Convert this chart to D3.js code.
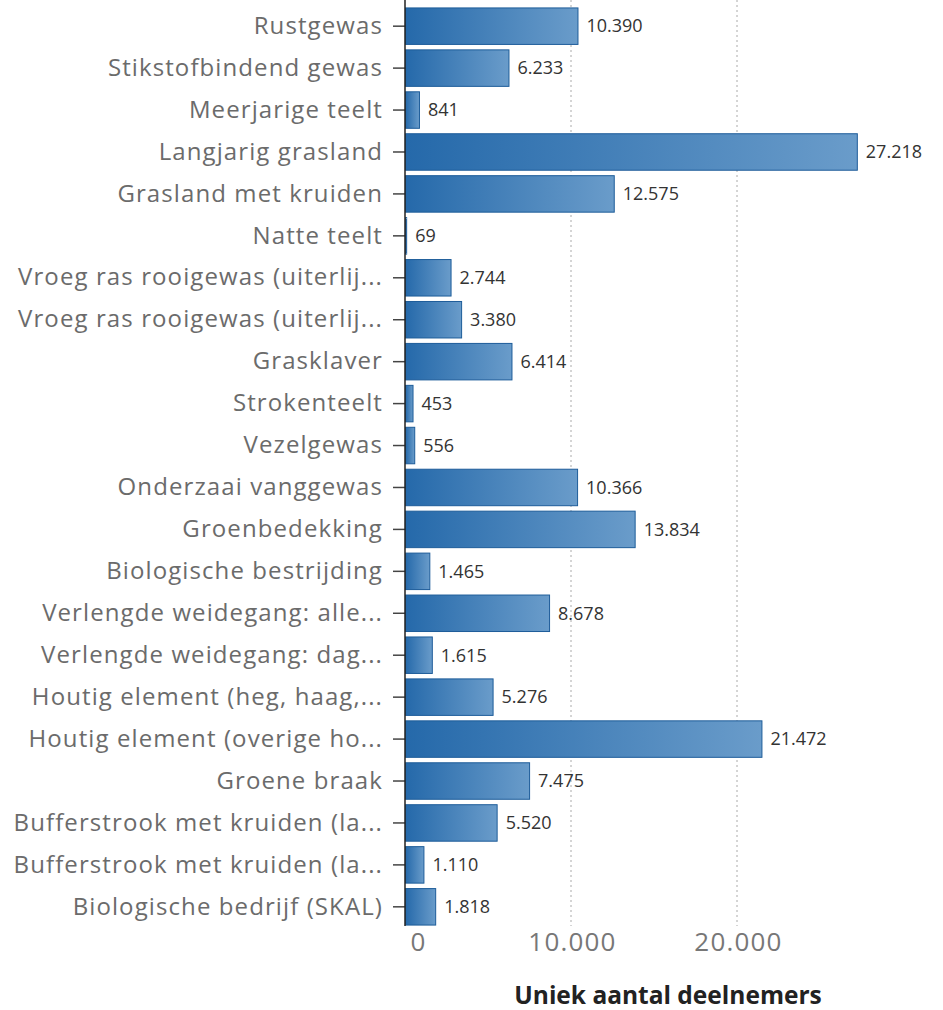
<!DOCTYPE html>
<html lang="nl">
<head>
<meta charset="utf-8">
<style>
  body { margin: 0; background: #fff; }
  svg text { font-family: "Open Sans", Lato, sans-serif; }
</style>
</head>
<body>
<svg width="943" height="1010"></svg>
<script src="https://d3js.org/d3.v7.min.js"></script>
<script>
// data
var categories = [
  "Rustgewas", "Stikstofbindend gewas", "Meerjarige teelt", "Langjarig grasland",
  "Grasland met kruiden", "Natte teelt", "Vroeg ras rooigewas (uiterlij...",
  "Vroeg ras rooigewas (uiterlij...", "Grasklaver", "Strokenteelt", "Vezelgewas",
  "Onderzaai vanggewas", "Groenbedekking", "Biologische bestrijding",
  "Verlengde weidegang: alle...", "Verlengde weidegang: dag...",
  "Houtig element (heg, haag,...", "Houtig element (overige ho...", "Groene braak",
  "Bufferstrook met kruiden (la...", "Bufferstrook met kruiden (la...",
  "Biologische bedrijf (SKAL)"
];
var deelnemers = [10390, 6233, 841, 27218, 12575, 69, 2744, 3380, 6414, 453, 556,
  10366, 13834, 1465, 8678, 1615, 5276, 21472, 7475, 5520, 1110, 1818];
var xTicks = [0, 10000, 20000];
var xTitle = "Uniek aantal deelnemers";

var nl = d3.formatLocale({decimal: ",", thousands: ".", grouping: [3], currency: ["€", ""]});
var fmt = nl.format(",");

var svg = d3.select("svg");
var x0 = 405;

var x = d3.scaleLinear().domain([0, 30000]).range([x0, x0 + 498]);
var y = d3.scaleBand()
  .domain(d3.range(categories.length))
  .range([5, 928])
  .paddingInner(0.13)
  .paddingOuter(0.07);

// gradient for bars
var grad = svg.append("defs").append("linearGradient")
  .attr("id", "barGrad")
  .attr("x1", "0%").attr("x2", "100%").attr("y1", "0%").attr("y2", "0%");
grad.append("stop").attr("offset", "0%").attr("stop-color", "#2569aa");
grad.append("stop").attr("offset", "100%").attr("stop-color", "#6a9cca");

// gridlines
svg.append("g").selectAll("line")
  .data(xTicks.slice(1))
  .enter().append("line")
  .attr("x1", d => x(d)).attr("x2", d => x(d))
  .attr("y1", 0).attr("y2", 926)
  .attr("stroke", "#aaa")
  .attr("stroke-width", 1)
  .attr("stroke-dasharray", "2,3");

// bars
svg.append("g").selectAll("rect")
  .data(deelnemers)
  .enter().append("rect")
  .attr("x", x(0) + 0.5)
  .attr("y", (d, i) => y(i))
  .attr("width", d => Math.max(1, x(d) - x(0)))
  .attr("height", y.bandwidth())
  .attr("fill", "url(#barGrad)")
  .attr("stroke", "#1d5c99")
  .attr("stroke-width", 1);

// value labels
svg.append("g").selectAll("text")
  .data(deelnemers)
  .enter().append("text")
  .attr("x", d => x(d) + 9)
  .attr("y", (d, i) => y(i) + y.bandwidth() / 2)
  .attr("dy", "0.35em")
  .attr("font-size", 18)
  .attr("fill", "#333")
  .text(d => fmt(d));

// y axis
var yAxis = d3.axisLeft(y)
  .tickSize(12)
  .tickPadding(10)
  .tickFormat(i => categories[i]);
var gy = svg.append("g")
  .attr("transform", "translate(" + x0 + ",0)")
  .call(yAxis);
gy.select(".domain").remove();
gy.append("line")
  .attr("x1", 0).attr("x2", 0)
  .attr("y1", 0).attr("y2", 926)
  .attr("stroke", "#222")
  .attr("stroke-width", 1.5);
gy.selectAll(".tick line").attr("stroke", "#444").attr("stroke-width", 1.5);
gy.selectAll(".tick text")
  .attr("font-size", 24)
  .attr("fill", "#6b6b6b")
  .attr("letter-spacing", 1.1)
  .style("font-family", "'Open Sans', sans-serif");

// x axis
var xAxis = d3.axisBottom(x)
  .tickValues(xTicks)
  .tickSize(0)
  .tickPadding(0)
  .tickFormat(d => fmt(d));
var gx = svg.append("g")
  .attr("transform", "translate(0,933)")
  .call(xAxis);
gx.select(".domain").remove();
gx.selectAll(".tick text")
  .attr("font-size", 26)
  .attr("fill", "#777")
  .attr("letter-spacing", 1.2)
  .attr("dy", "0.71em")
  .attr("dx", (d, i) => i === 0 ? 13 : 1)
  .style("font-family", "'Open Sans', sans-serif");

// x title
svg.append("text")
  .attr("x", 668)
  .attr("y", 1004)
  .attr("text-anchor", "middle")
  .attr("font-size", 24.5)
  .attr("font-weight", "bold")
  .attr("fill", "#222")
  .text(xTitle);
</script>
</body>
</html>
